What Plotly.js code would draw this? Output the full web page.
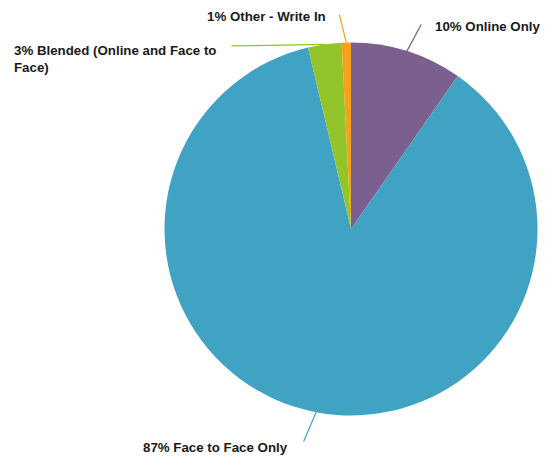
<!DOCTYPE html>
<html><head><meta charset="utf-8">
<script src="https://cdn.plot.ly/plotly-3.0.1.min.js"></script>
<style>html,body{margin:0;padding:0;background:#fff}#chart{width:545px;height:462px}</style>
</head><body><div id="chart"></div>
<script>
// ---- data ----
const categories = ['Online Only', 'Face to Face Only', 'Blended (Online and Face to Face)', 'Other - Write In'];
const values = [9.7, 86.6, 2.9, 0.8];
const percentLabels = ['10%', '87%', '3%', '1%'];
const labelTexts = ['Online Only', 'Face to Face Only', 'Blended (Online and Face to<br>Face)', 'Other - Write In'];
const colors = ['#7B5F8F', '#41A3C3', '#93C52B', '#F5A11C'];

// ---- layout constants ----
const W = 545, H = 462;
const cx = 351, cy = 229, r = 186.5;
const domainX = [(cx - r) / W, (cx + r) / W];
const domainY = [(H - cy - r) / H, (H - cy + r) / H];
const labelPos = [
  {x: 433, y: 27, xanchor: 'left'},
  {x: 141, y: 447, xanchor: 'left'},
  {x: 12, y: 59, xanchor: 'left'},
  {x: 328, y: 16, xanchor: 'right'}
];
const leaderEnd = [[422, 23], [303, 443], [230, 46], [339, 13]];
const font = {family: '"Liberation Sans", Arial, sans-serif', size: 13.3, color: '#1a1a1a'};

const total = values.reduce((a, b) => a + b, 0);
let cum = 0;
const annotations = [];
values.forEach((v, i) => {
  const mid = (cum + v / 2) / total * 2 * Math.PI;
  cum += v;
  const tx = cx + r * Math.sin(mid), ty = cy - r * Math.cos(mid);
  annotations.push({
    xref: 'paper', yref: 'paper', x: tx / W, y: 1 - ty / H,
    axref: 'pixel', ayref: 'pixel',
    ax: leaderEnd[i][0] - tx, ay: leaderEnd[i][1] - ty,
    text: '', showarrow: true, arrowhead: 0, arrowwidth: 1.2, arrowcolor: colors[i]
  });
  annotations.push({
    xref: 'paper', yref: 'paper', x: labelPos[i].x / W, y: 1 - labelPos[i].y / H,
    xanchor: labelPos[i].xanchor, yanchor: 'middle', align: 'left',
    text: '<b>' + percentLabels[i] + ' ' + labelTexts[i] + '</b>',
    showarrow: false, font: font
  });
});

const trace = {
  type: 'pie',
  labels: categories,
  values: values,
  sort: false,
  direction: 'clockwise',
  rotation: 0,
  marker: {colors: colors, line: {width: 0}},
  textinfo: 'none',
  hoverinfo: 'none',
  domain: {x: domainX, y: domainY}
};

Plotly.newPlot('chart', [trace], {
  width: W, height: H,
  margin: {l: 0, r: 0, t: 0, b: 0},
  showlegend: false,
  paper_bgcolor: '#ffffff',
  annotations: annotations
}, {staticPlot: true});
</script>
</body></html>
